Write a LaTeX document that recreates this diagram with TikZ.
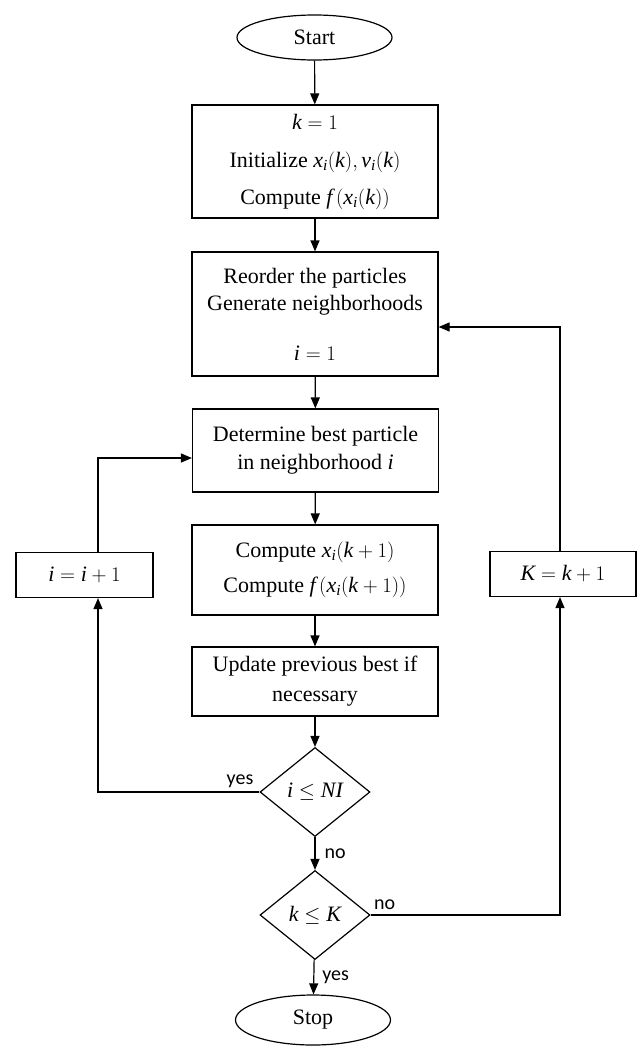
\documentclass[tikz,border=0pt]{standalone}
\usepackage{fontspec}
\setmainfont{Liberation Serif}
\newfontfamily\lblfont{Carlito}
\usetikzlibrary{shapes.geometric,arrows.meta}
\newcommand\I[1]{\mathit{#1}}
\begin{document}
\begin{tikzpicture}[x=1pt,y=-1pt,
  every node/.style={font=\fontsize{22}{27}\selectfont},
  proc/.style={draw,line width=1.2pt,minimum width=246pt,inner sep=0pt,align=center},
  term/.style={draw,ellipse,line width=1.2pt,minimum width=155pt,minimum height=45pt,inner sep=0pt},
  dec/.style={draw,diamond,line width=1.2pt,minimum width=110pt,minimum height=89pt,inner sep=0pt,aspect=1.24},
  side/.style={draw,line width=1.2pt,minimum width=137pt,minimum height=45pt,inner sep=0pt},
  flow/.style={line width=1.2pt,-{Triangle[length=11pt,width=9pt]}},
  lbl/.style={font=\lblfont\fontsize{20}{23}\selectfont,inner sep=0pt}
]
\useasboundingbox (0,0) rectangle (637,1047);
\node[term] (start) at (314.5,37.5) {Start};
\node[proc,minimum height=113pt] (init) at (315,161.5) {$\I{k}=1$\\[11pt] Initialize $\I{x}_{\I{i}}(\I{k}),\I{v}_{\I{i}}(\I{k})$\\[10pt] Compute $\I{f}\,(\I{x}_{\I{i}}(\I{k}))$};
\node[proc,minimum height=124pt] (reord) at (315,314) {Reorder the particles\\Generate neighborhoods\\[23pt]$\I{i}=1$};
\node[proc,minimum height=83pt] (best) at (315.5,450.5) {Determine best particle\\[1pt]in neighborhood $\I{i}$};
\node[proc,minimum height=90pt] (comp) at (315,570) {Compute $\I{x}_{\I{i}}(\I{k}+1)$\\[8pt]Compute $\I{f}\,(\I{x}_{\I{i}}(\I{k}+1))$};
\node[proc,minimum height=69pt] (upd) at (315,681.5) {Update previous best if\\[3pt]necessary};
\node[dec] (d1) at (315,792) {$\I{i}\le\I{NI}$};
\node[dec] (d2) at (315,915) {$\I{k}\le\I{K}$};
\node[term,minimum height=50pt] (stop) at (313,1020) {Stop};
\node[side] (inc) at (84.5,575) {$\I{i}=\I{i}+1$};
\node[side,minimum width=146pt] (kinc) at (563,574) {$\I{K}=\I{k}+1$};

\coordinate (c1) at (98,792);
\coordinate (c2) at (98,458);
\coordinate (c3) at (560,915);
\coordinate (c4) at (560,327);

\draw[flow] (start) -- (init);
\draw[flow] (init) -- (reord);
\draw[flow] (reord) -- (best);
\draw[flow] (best) -- (comp);
\draw[flow] (comp) -- (upd);
\draw[flow] (upd) -- (d1);
\draw[flow] (d1) -- node[lbl,anchor=west,xshift=9pt]{no} (d2);
\draw[flow] (d2) -- node[lbl,anchor=west,xshift=8pt]{yes} (stop);
\draw[flow] (d1.west) -- node[lbl,pos=0.12,above=4pt]{yes} (c1) -- (inc.south -| c1);
\draw[flow] (inc.north -| c2) -- (c2) -- (best.west |- c2);
\draw[flow] (d2.east) -- node[lbl,pos=0,anchor=south west,xshift=3pt,yshift=5pt]{no} (c3) -- (kinc.south -| c3);
\draw[flow] (kinc.north -| c4) -- (c4) -- (reord.east |- c4);
\end{tikzpicture}
\end{document}
